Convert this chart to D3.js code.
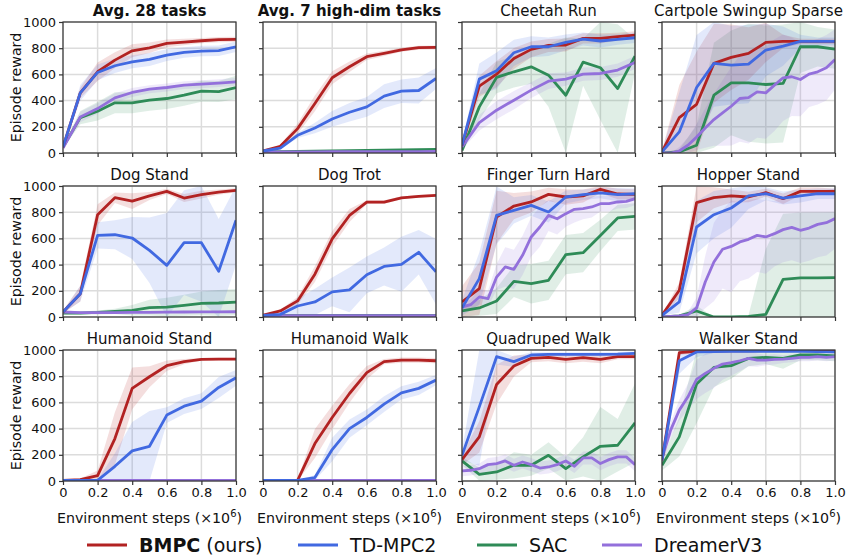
<!DOCTYPE html>
<html>
<head>
<meta charset="utf-8">
<script src="https://cdn.jsdelivr.net/npm/d3@7"></script>
<style>
  body { margin: 0; background: #fff; }
  svg { font-family: "DejaVu Sans", sans-serif; }
</style>
</head>
<body>
<svg id="chart" width="848" height="556"></svg>
<script>
// task titles (bold = averages)
const tasks = [
  "Avg. 28 tasks", "Avg. 7 high-dim tasks", "Cheetah Run", "Cartpole Swingup Sparse",
  "Dog Stand", "Dog Trot", "Finger Turn Hard", "Hopper Stand",
  "Humanoid Stand", "Humanoid Walk", "Quadruped Walk", "Walker Stand"
];
const boldTasks = [0, 1];
const xTicks = [0, 0.2, 0.4, 0.6, 0.8, 1.0];
const yTicks = [0, 200, 400, 600, 800, 1000];

// mean curves, one row per task; rows of 11 points = 0.1 steps, 21 points = 0.05 steps
const bmpcMean = [
  [46, 459, 620, 709, 780, 803, 837, 847, 857, 865, 867],
  [15, 51, 186, 378, 574, 658, 735, 760, 788, 804, 806],
  [59, 510, 602, 722, 791, 821, 824, 875, 875, 888, 900],
  [8, 270, 372, 684, 730, 760, 844, 852, 852, 852, 852],
  [38, 178, 781, 911, 885, 924, 959, 908, 934, 954, 967],
  [13, 46, 123, 327, 596, 775, 877, 877, 910, 921, 928],
  [115, 216, 763, 847, 878, 936, 916, 924, 975, 939, 936],
  [13, 204, 873, 911, 924, 916, 949, 903, 959, 959, 959],
  [5, 10, 41, 324, 707, 796, 880, 911, 929, 931, 931],
  [5, 5, 5, 286, 485, 668, 827, 911, 923, 923, 918],
  [163, 337, 737, 878, 936, 944, 929, 941, 929, 949, 949],
  [158, 980, 990, 992, 993, 994, 995, 995, 995, 995, 995]
];
const bmpcSpread = [
  [10, 40, 70, 60, 50, 40, 30, 25, 20, 20, 20],
  [5, 10, 40, 60, 50, 40, 25, 20, 15, 15, 15],
  [20, 80, 100, 80, 60, 50, 50, 40, 40, 30, 30],
  [10, 250, 400, 300, 250, 200, 150, 50, 20, 20, 20],
  [10, 60, 80, 40, 60, 30, 20, 30, 30, 20, 15],
  [5, 10, 30, 60, 60, 50, 15, 15, 10, 10, 10],
  [120, 200, 200, 100, 80, 50, 60, 50, 30, 40, 40],
  [5, 60, 150, 80, 50, 40, 30, 40, 30, 30, 20],
  [0, 10, 40, 200, 160, 80, 40, 20, 10, 10, 10],
  [0, 0, 5, 110, 90, 70, 50, 20, 20, 20, 20],
  [40, 120, 150, 80, 30, 30, 30, 30, 30, 20, 20],
  [40, 20, 10, 5, 5, 5, 5, 5, 5, 5, 5]
];
const tdmpcMean = [
  [46, 459, 615, 666, 696, 714, 747, 768, 778, 781, 811],
  [15, 38, 135, 191, 260, 311, 352, 434, 472, 477, 569],
  [59, 564, 628, 765, 811, 811, 844, 870, 855, 867, 880],
  [8, 161, 500, 684, 671, 679, 786, 816, 852, 852, 852],
  [38, 178, 623, 628, 603, 509, 394, 567, 567, 349, 738],
  [13, 20, 84, 115, 192, 207, 322, 386, 402, 494, 345],
  [69, 293, 776, 814, 852, 802, 916, 934, 947, 934, 941],
  [13, 115, 687, 781, 832, 924, 941, 908, 924, 941, 941],
  [5, 5, 5, 112, 230, 265, 503, 571, 610, 714, 788],
  [5, 5, 5, 26, 240, 400, 485, 587, 673, 707, 770],
  [196, 566, 949, 911, 962, 967, 967, 967, 967, 969, 974],
  [158, 918, 985, 988, 990, 990, 990, 990, 990, 988, 985]
];
const tdmpcSpread = [
  [10, 60, 60, 55, 50, 50, 45, 40, 40, 40, 40],
  [5, 10, 20, 40, 60, 70, 75, 90, 90, 100, 80],
  [20, 120, 140, 100, 80, 70, 60, 50, 50, 40, 40],
  [10, 300, 400, 330, 300, 300, 200, 150, 50, 30, 30],
  [10, 60, 100, 110, 160, 250, 400, 400, 450, 400, 340],
  [5, 15, 60, 100, 110, 170, 140, 145, 210, 170, 250],
  [60, 200, 220, 100, 80, 80, 50, 40, 40, 50, 40],
  [5, 80, 200, 180, 150, 100, 50, 50, 50, 40, 40],
  [0, 0, 5, 100, 220, 270, 60, 60, 60, 80, 60],
  [0, 0, 0, 20, 90, 70, 60, 60, 50, 50, 40],
  [40, 450, 60, 40, 20, 15, 15, 15, 15, 15, 15],
  [40, 100, 40, 10, 8, 8, 8, 8, 8, 10, 10]
];
const sacMean = [
  [45, 270, 319, 383, 383, 403, 416, 441, 472, 469, 500],
  [8, 10, 12, 14, 16, 18, 20, 22, 24, 26, 28],
  [20, 352, 577, 620, 658, 594, 441, 694, 651, 492, 740],
  [0, 8, 59, 441, 536, 536, 523, 531, 811, 811, 793],
  [30, 30, 35, 43, 51, 71, 76, 89, 104, 107, 114],
  [12, 12, 12, 12, 12, 12, 12, 12, 12, 12, 12],
  [46, 69, 122, 272, 254, 280, 476, 491, 623, 756, 768],
  [0, 8, 46, 0, 0, 5, 20, 288, 298, 298, 300],
  [5, 5, 5, 5, 5, 5, 5, 5, 5, 5, 5],
  [5, 5, 5, 5, 5, 5, 5, 5, 5, 5, 5],
  [153, 51, 69, 120, 120, 196, 94, 184, 265, 273, 444],
  [120, 337, 740, 867, 880, 936, 944, 936, 962, 962, 954]
];
const sacSpread = [
  [10, 50, 70, 80, 80, 80, 80, 80, 80, 80, 90],
  [2, 3, 3, 4, 4, 5, 5, 6, 6, 6, 6],
  [20, 100, 120, 120, 130, 240, 440, 180, 400, 490, 130],
  [0, 20, 150, 400, 400, 450, 450, 450, 200, 150, 150],
  [10, 10, 15, 20, 40, 60, 70, 80, 90, 100, 100],
  [2, 2, 2, 2, 2, 2, 2, 2, 2, 2, 2],
  [40, 60, 100, 120, 150, 150, 150, 150, 120, 100, 100],
  [0, 10, 40, 0, 0, 10, 500, 500, 500, 500, 500],
  [0, 0, 0, 0, 0, 0, 0, 0, 0, 0, 0],
  [0, 0, 0, 0, 0, 0, 0, 0, 0, 0, 0],
  [30, 50, 60, 100, 80, 100, 90, 150, 300, 200, 300],
  [40, 150, 300, 150, 100, 60, 50, 80, 40, 40, 40]
];
const dreamerMean = [
  [38, 275, 339, 421, 462, 487, 500, 518, 525, 533, 543],
  [8, 8, 9, 9, 10, 10, 10, 11, 11, 11, 12],
  [46, 232, 327, 403, 480, 548, 564, 602, 607, 633, 691],
  [0, 0, 15, 59, 122, 191, 255, 306, 357, 416, 423, 467, 459, 518, 574, 582, 561, 602, 620, 651, 714],
  [38, 34, 33, 34, 36, 36, 37, 38, 39, 39, 40],
  [10, 10, 10, 10, 10, 10, 10, 10, 10, 10, 10],
  [76, 94, 153, 140, 305, 382, 364, 471, 611, 687, 776, 750, 789, 822, 827, 840, 865, 865, 878, 883, 903],
  [0, 5, 8, 18, 69, 267, 420, 517, 539, 573, 593, 623, 611, 636, 667, 684, 662, 679, 707, 720, 751],
  [5, 5, 5, 5, 5, 5, 5, 5, 5, 5, 5],
  [5, 5, 5, 5, 5, 5, 5, 5, 5, 5, 5],
  [77, 82, 94, 125, 133, 153, 120, 145, 125, 99, 107, 125, 153, 112, 176, 176, 133, 163, 184, 184, 125],
  [171, 388, 541, 643, 776, 821, 860, 893, 903, 918, 936, 923, 923, 929, 931, 936, 944, 944, 949, 944, 949]
];
const dreamerSpread = [
  [10, 40, 40, 35, 35, 30, 30, 30, 30, 30, 30],
  [2, 2, 2, 2, 2, 2, 2, 2, 2, 2, 2],
  [20, 60, 70, 70, 60, 60, 50, 50, 50, 50, 50],
  [0, 0, 30, 60, 100, 150, 200, 250, 300, 330, 350, 350, 350, 350, 330, 300, 280, 250, 250, 250, 230],
  [5, 5, 5, 5, 5, 5, 5, 5, 5, 5, 5],
  [2, 2, 2, 2, 2, 2, 2, 2, 2, 2, 2],
  [30, 40, 60, 60, 100, 150, 150, 150, 150, 150, 120, 120, 100, 100, 80, 80, 60, 60, 50, 50, 50],
  [0, 5, 10, 20, 80, 200, 300, 300, 350, 300, 300, 280, 280, 250, 250, 250, 250, 250, 250, 250, 230],
  [0, 0, 0, 0, 0, 0, 0, 0, 0, 0, 0],
  [0, 0, 0, 0, 0, 0, 0, 0, 0, 0, 0],
  [40, 40, 40, 50, 50, 50, 50, 50, 50, 50, 50, 50, 50, 50, 50, 50, 50, 50, 50, 50, 50],
  [40, 60, 80, 100, 150, 150, 150, 120, 100, 80, 60, 50, 40, 40, 30, 30, 30, 30, 30, 30, 30]
];

const methods = [
  { name: "SAC", color: "#2e8b57", mean: sacMean, spread: sacSpread },
  { name: "DreamerV3", color: "#9370db", mean: dreamerMean, spread: dreamerSpread },
  { name: "BMPC", color: "#b22222", mean: bmpcMean, spread: bmpcSpread },
  { name: "TD-MPC2", color: "#4169e1", mean: tdmpcMean, spread: tdmpcSpread }
];

const svg = d3.select("svg#chart");

//panel grid
const colLeft = [63, 263, 462, 662];
const rowTop = [22, 186, 350];
const panel = { width: 173, height: 131 };

const xScale = d3.scaleLinear().domain([0, 1]).range([0, panel.width]);
const yScale = d3.scaleLinear().domain([0, 1000]).range([panel.height, 0]);

const toPoints = (mean, spread) =>
  mean.map((m, i) => ({
    x: i / (mean.length - 1),
    m: m,
    lo: Math.max(0, m - spread[i]),
    hi: Math.min(1000, m + spread[i])
  }));

const lineGenerator = d3.line().x(d => xScale(d.x)).y(d => yScale(d.m));
const areaGenerator = d3
  .area()
  .x(d => xScale(d.x))
  .y0(d => yScale(d.lo))
  .y1(d => yScale(d.hi));

svg
  .append("defs")
  .append("clipPath")
  .attr("id", "panel-clip")
  .append("rect")
  .attr("width", panel.width)
  .attr("height", panel.height);

tasks.forEach((task, t) => {
  const row = Math.floor(t / 4);
  const col = t % 4;
  const g = svg
    .append("g")
    .attr("transform", `translate(${colLeft[col]}, ${rowTop[row]})`);

  //grid
  g.selectAll(".vgrid")
    .data(xTicks)
    .join("line")
    .attr("x1", d => xScale(d))
    .attr("x2", d => xScale(d))
    .attr("y1", 0)
    .attr("y2", panel.height)
    .attr("stroke", "#dcdcdc")
    .attr("stroke-width", 1.5);
  g.selectAll(".hgrid")
    .data(yTicks)
    .join("line")
    .attr("x1", 0)
    .attr("x2", panel.width)
    .attr("y1", d => yScale(d))
    .attr("y2", d => yScale(d))
    .attr("stroke", "#dcdcdc")
    .attr("stroke-width", 1.5);

  const plot = g.append("g").attr("clip-path", "url(#panel-clip)");
  methods.forEach(mt => {
    const pts = toPoints(mt.mean[t], mt.spread[t]);
    plot
      .append("path")
      .attr("d", areaGenerator(pts))
      .attr("fill", mt.color)
      .attr("fill-opacity", 0.15);
  });
  methods.forEach(mt => {
    const pts = toPoints(mt.mean[t], mt.spread[t]);
    plot
      .append("path")
      .attr("d", lineGenerator(pts))
      .attr("fill", "none")
      .attr("stroke", mt.color)
      .attr("stroke-width", 2.8)
      .attr("stroke-linejoin", "round");
  });

  //axes
  const xAxis = d3
    .axisBottom(xScale)
    .tickValues(xTicks)
    .tickSize(4)
    .tickPadding(3)
    .tickFormat(row === 2 ? (d => (d === 0 ? "0" : d3.format(".1f")(d))) : "");
  const yAxis = d3
    .axisLeft(yScale)
    .tickValues(yTicks)
    .tickSize(4)
    .tickPadding(3)
    .tickFormat(col === 0 ? d3.format("d") : "");

  const xa = g.append("g").attr("transform", `translate(0, ${panel.height})`).call(xAxis);
  const ya = g.append("g").call(yAxis);
  [xa, ya].forEach(a => {
    a.select(".domain").remove();
    a.selectAll("line").attr("stroke", "#333").attr("stroke-width", 1.2);
    a.selectAll("text")
      .attr("fill", "#111")
      .attr("font-size", 13)
      .attr("font-family", "DejaVu Sans, sans-serif");
  });

  g.append("rect")
    .attr("width", panel.width)
    .attr("height", panel.height)
    .attr("fill", "none")
    .attr("stroke", "#333")
    .attr("stroke-width", 1.2);

  g.append("text")
    .attr("x", panel.width / 2)
    .attr("y", -6)
    .attr("text-anchor", "middle")
    .attr("font-size", 15)
    .attr("font-weight", boldTasks.includes(t) ? "bold" : "normal")
    .attr("fill", "#111")
    .text(task);

  if (col === 0) {
    g.append("text")
      .attr("transform", `translate(-42, ${panel.height / 2}) rotate(-90)`)
      .attr("text-anchor", "middle")
      .attr("font-size", 14.2)
      .attr("fill", "#111")
      .text("Episode reward");
  }
  if (row === 2) {
    const lab = g
      .append("text")
      .attr("x", panel.width / 2)
      .attr("y", panel.height + 42)
      .attr("text-anchor", "middle")
      .attr("font-size", 14.2)
      .attr("fill", "#111");
    lab.append("tspan").text("Environment steps (×10");
    lab.append("tspan").attr("dy", -6).attr("font-size", 10).text("6");
    lab.append("tspan").attr("dy", 6).text(")");
  }
});

//legend
const legendItems = [
  { color: "#b22222", bold: "BMPC", rest: " (ours)", x: 87 },
  { color: "#4169e1", bold: "", rest: "TD-MPC2", x: 298 },
  { color: "#2e8b57", bold: "", rest: "SAC", x: 477 },
  { color: "#9370db", bold: "", rest: "DreamerV3", x: 602 }
];
const legend = svg.append("g").attr("transform", "translate(0, 545)");
legendItems.forEach(it => {
  legend
    .append("line")
    .attr("x1", it.x)
    .attr("x2", it.x + 40)
    .attr("y1", 0)
    .attr("y2", 0)
    .attr("stroke", it.color)
    .attr("stroke-width", 3);
  const txt = legend
    .append("text")
    .attr("x", it.x + 52)
    .attr("y", 7)
    .attr("font-size", 19)
    .attr("fill", "#111");
  if (it.bold) txt.append("tspan").attr("font-weight", "bold").text(it.bold);
  txt.append("tspan").text(it.rest);
});
</script>
</body>
</html>
